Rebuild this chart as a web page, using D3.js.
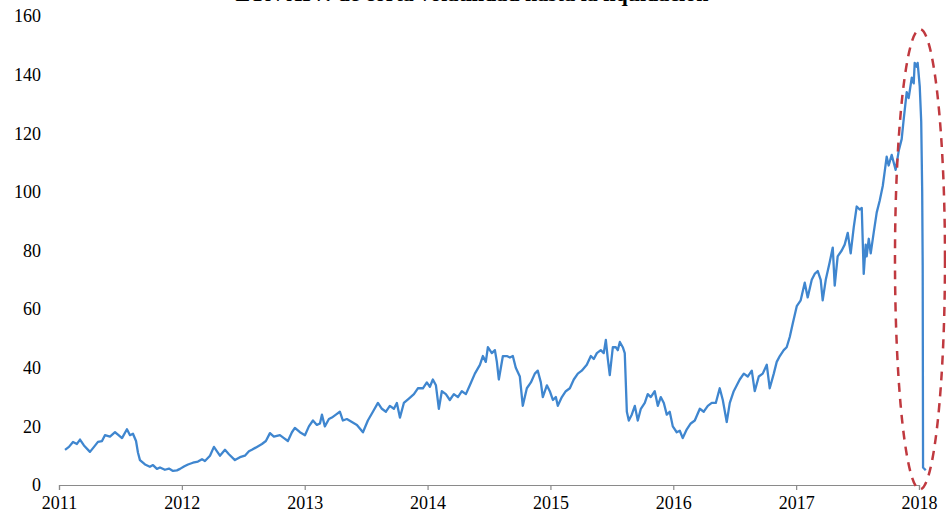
<!DOCTYPE html>
<html>
<head>
<meta charset="utf-8">
<script src="https://cdn.jsdelivr.net/npm/d3@7/dist/d3.min.js"></script>
<style>
  html, body { margin: 0; padding: 0; background: #fff; }
  svg { display: block; }
</style>
</head>
<body>
<svg id="chart" width="946" height="519"></svg>
<script>
// ---- Data ----
const title = "ETN XIV: de corta volatilidad hasta la liquidación";

// time in decimal years
const times = [
  2011.049, 2011.081, 2011.114, 2011.146, 2011.171, 2011.203, 2011.252, 2011.285, 2011.317, 2011.350,
  2011.374, 2011.415, 2011.456, 2011.480, 2011.513, 2011.553, 2011.578, 2011.602, 2011.627, 2011.643,
  2011.659, 2011.700, 2011.740, 2011.765, 2011.797, 2011.822, 2011.862, 2011.895, 2011.928, 2011.960,
  2011.985, 2012.017, 2012.050, 2012.090, 2012.131, 2012.164, 2012.188, 2012.229, 2012.261, 2012.286,
  2012.310, 2012.351, 2012.383, 2012.432, 2012.473, 2012.513, 2012.546, 2012.570, 2012.611, 2012.652,
  2012.684, 2012.717, 2012.749, 2012.798, 2012.831, 2012.863, 2012.896, 2012.920, 2012.961, 2013.002,
  2013.034, 2013.067, 2013.099, 2013.124, 2013.140, 2013.164, 2013.197, 2013.221, 2013.254, 2013.286,
  2013.311, 2013.343, 2013.384, 2013.425, 2013.474, 2013.514, 2013.555, 2013.596, 2013.628, 2013.661,
  2013.693, 2013.726, 2013.750, 2013.775, 2013.807, 2013.848, 2013.889, 2013.921, 2013.962, 2013.994,
  2014.019, 2014.043, 2014.068, 2014.092, 2014.116, 2014.149, 2014.181, 2014.214, 2014.247, 2014.279,
  2014.312, 2014.344, 2014.385, 2014.426, 2014.450, 2014.474, 2014.491, 2014.523, 2014.548, 2014.564,
  2014.580, 2014.613, 2014.645, 2014.670, 2014.694, 2014.718, 2014.751, 2014.775, 2014.808, 2014.841,
  2014.873, 2014.897, 2014.922, 2014.938, 2014.971, 2014.995, 2015.020, 2015.044, 2015.060, 2015.093,
  2015.125, 2015.158, 2015.190, 2015.223, 2015.255, 2015.296, 2015.329, 2015.353, 2015.378, 2015.410,
  2015.434, 2015.451, 2015.467, 2015.483, 2015.508, 2015.532, 2015.548, 2015.565, 2015.589, 2015.605,
  2015.622, 2015.638, 2015.662, 2015.687, 2015.711, 2015.736, 2015.768, 2015.792, 2015.817, 2015.849,
  2015.874, 2015.898, 2015.923, 2015.947, 2015.971, 2015.996, 2016.028, 2016.053, 2016.077, 2016.110,
  2016.142, 2016.175, 2016.216, 2016.248, 2016.281, 2016.313, 2016.346, 2016.378, 2016.403, 2016.435,
  2016.460, 2016.492, 2016.517, 2016.541, 2016.574, 2016.606, 2016.639, 2016.663, 2016.696, 2016.728,
  2016.761, 2016.785, 2016.818, 2016.842, 2016.867, 2016.899, 2016.923, 2016.948, 2016.972, 2017.005,
  2017.037, 2017.070, 2017.094, 2017.127, 2017.151, 2017.176, 2017.200, 2017.216, 2017.241, 2017.273,
  2017.298, 2017.314, 2017.338, 2017.371, 2017.395, 2017.420, 2017.444, 2017.469, 2017.493, 2017.517,
  2017.534, 2017.550, 2017.566, 2017.574, 2017.591, 2017.607, 2017.631, 2017.656, 2017.680, 2017.705,
  2017.721, 2017.737, 2017.753, 2017.778, 2017.794, 2017.810, 2017.835, 2017.859, 2017.876, 2017.900,
  2017.916, 2017.941, 2017.957, 2017.965, 2017.981, 2017.989, 2018.006, 2018.018, 2018.026, 2018.030,
  2018.033, 2018.055
];

const values = [
  12, 13, 14.7, 14, 15.5, 13.5, 11.3, 13, 14.7, 15,
  17, 16.5, 18, 17.2, 16, 19, 17, 17.5, 15, 11,
  8.5, 7, 6.2, 6.8, 5.5, 6, 5.2, 5.6, 4.8, 5,
  5.5, 6.3, 7, 7.6, 8, 8.8, 8.2, 10, 13, 11.5,
  10, 12, 10.5, 8.5, 9.5, 10, 11.5, 12, 13, 14,
  15, 17.7, 16.5, 17, 16, 15, 18, 19.5, 18, 17,
  20, 22, 20.5, 21, 24, 20, 22.5, 23, 24, 25,
  22, 22.5, 21.5, 20.5, 18, 22, 25, 28, 26, 25,
  27, 26, 28, 23, 28, 29.5, 31, 33, 33, 35,
  33.5, 36, 34, 26, 32, 31, 29, 31, 30, 32,
  31, 34, 38, 41, 44, 42, 47, 45, 46, 42,
  36, 44, 44, 43.5, 44, 40, 37, 27, 33, 35,
  38, 39, 35, 30, 34, 32, 29, 30, 27, 30,
  32, 33, 36, 38, 39, 41, 44, 43, 45, 46,
  45, 49.5, 43, 37.5, 47, 47, 46, 48.8, 47, 45,
  25, 22, 24, 27, 22, 26, 28, 31, 30, 32,
  27, 30, 28, 24, 25, 20, 18, 18.5, 16, 19,
  21, 22, 26, 25, 27, 28, 28, 33, 29, 21.5,
  28, 32, 34, 36, 38, 37, 39, 32, 37, 38,
  41, 33, 38, 42, 44, 46, 47, 50.5, 55, 61,
  63, 69, 64, 70, 72, 73, 70, 63, 70, 76,
  81, 68, 78, 80, 82, 86, 79, 88, 95, 94,
  94.5, 72, 82, 78, 84, 79, 86, 93, 97, 102,
  107, 112, 109, 112.6, 110, 107.5, 114, 118, 125, 134,
  132, 139, 137, 144, 142.7, 144, 136, 124, 100, 75,
  6, 5
];

const yTicks = [0, 20, 40, 60, 80, 100, 120, 140, 160];
const xTicks = [2011, 2012, 2013, 2014, 2015, 2016, 2017, 2018];

// ---- Chart ----
const svg = d3.select("#chart");
const x = d3.scaleLinear().domain([2011, 2018]).range([59, 919]);
const y = d3.scaleLinear().domain([0, 160]).range([485, 16]);

const serif = "'Liberation Serif', 'Times New Roman', serif";

// title (cut off at the top of the picture, as in the reference)
svg.append("text")
  .attr("x", 472).attr("y", 1)
  .attr("text-anchor", "middle")
  .attr("font-family", serif)
  .attr("font-weight", "bold")
  .attr("font-size", 22)
  .attr("fill", "#000")
  .text(title);

// x axis
const xAxis = d3.axisBottom(x)
  .tickValues(xTicks)
  .tickFormat(d3.format("d"))
  .tickSize(5)
  .tickPadding(6);
const gx = svg.append("g")
  .attr("transform", `translate(0,${y(0)})`)
  .call(xAxis);
gx.select(".domain").attr("stroke", "#8a8a8a").attr("stroke-width", 1.2);
gx.selectAll(".tick line").attr("stroke", "#8a8a8a").attr("stroke-width", 1.2);
gx.selectAll(".tick text")
  .attr("font-family", serif)
  .attr("font-size", 18)
  .attr("fill", "#000");

// y axis (labels only)
const yAxis = d3.axisLeft(y)
  .tickValues(yTicks)
  .tickFormat(d3.format("d"))
  .tickSize(0)
  .tickPadding(0);
const gy = svg.append("g")
  .attr("transform", "translate(41,0)")
  .call(yAxis);
gy.select(".domain").remove();
gy.selectAll(".tick text")
  .attr("font-family", serif)
  .attr("font-size", 18)
  .attr("fill", "#000");

// series line
const data = times.map((t, i) => ({ t, v: values[i] }));
const line = d3.line().x(d => x(d.t)).y(d => y(d.v));
svg.append("path")
  .datum(data)
  .attr("d", line)
  .attr("fill", "none")
  .attr("stroke", "#3f86cf")
  .attr("stroke-width", 2.3)
  .attr("stroke-linejoin", "round");

// highlight ellipse around the collapse
const ell = { t: 2018.008, v0: -1.5, v1: 155.5 };
svg.append("ellipse")
  .attr("cx", x(ell.t))
  .attr("cy", (y(ell.v0) + y(ell.v1)) / 2)
  .attr("rx", 25)
  .attr("ry", (y(ell.v0) - y(ell.v1)) / 2)
  .attr("fill", "none")
  .attr("stroke", "#c0393f")
  .attr("stroke-width", 2.5)
  .attr("stroke-dasharray", "9,7");
</script>
</body>
</html>
